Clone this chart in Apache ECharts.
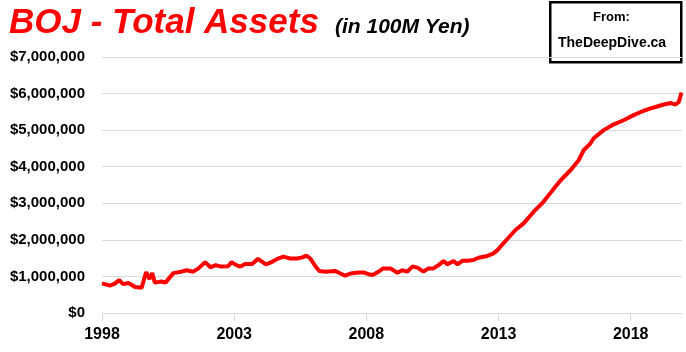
<!DOCTYPE html>
<html style="height: 100%">
<head>
<meta charset="utf-8">
<title>BOJ - Total Assets</title>
<style>
  html, body { margin: 0; padding: 0; background: #fff; }
  #chart { width: 686px; height: 352px; }
</style>
</head>
<body>
<div id="chart"></div>
<script src="https://cdn.jsdelivr.net/npm/echarts@6/dist/echarts.min.js"></script>
<script type="text/javascript">
  // dates as decimal years
  var years = [1998.0,1998.3,1998.5,1998.65,1998.8,1999.0,1999.25,1999.5,1999.67,1999.8,1999.9,
    2000.0,2000.25,2000.4,2000.7,2001.0,2001.2,2001.45,2001.65,2001.9,2002.1,2002.3,2002.5,2002.77,2002.9,
    2003.08,2003.23,2003.42,2003.68,2003.9,2004.2,2004.44,2004.63,2004.86,2005.12,2005.39,2005.58,2005.73,2005.88,
    2006.07,2006.22,2006.45,2006.83,2007.02,2007.2,2007.4,2007.7,2007.89,2008.08,2008.23,2008.42,2008.64,2008.91,
    2009.17,2009.36,2009.55,2009.74,2009.93,2010.16,2010.35,2010.54,2010.73,2010.92,2011.07,2011.3,2011.45,2011.64,2011.83,
    2012.05,2012.24,2012.58,2012.81,2012.96,2013.08,2013.34,2013.64,2013.95,2014.33,2014.7,2015.05,2015.35,2015.73,
    2016.03,2016.22,2016.48,2016.6,2016.98,2017.36,2017.73,2018.11,2018.49,2018.87,2019.25,2019.52,2019.7,2019.82,2019.92];

  // total assets, 100M yen
  var assets = [810000,750000,810000,900000,790000,820000,710000,690000,1120000,930000,1090000,
    830000,860000,830000,1090000,1130000,1170000,1130000,1220000,1390000,1250000,1310000,1270000,1280000,1390000,
    1310000,1270000,1340000,1340000,1480000,1330000,1400000,1480000,1540000,1490000,1490000,1520000,1570000,1490000,
    1280000,1150000,1130000,1150000,1080000,1020000,1080000,1110000,1110000,1060000,1040000,1110000,1220000,1220000,
    1100000,1170000,1130000,1270000,1240000,1130000,1220000,1220000,1310000,1420000,1330000,1420000,1330000,1430000,1430000,
    1450000,1510000,1560000,1630000,1720000,1820000,2030000,2270000,2450000,2770000,3040000,3360000,3630000,3910000,
    4180000,4450000,4640000,4780000,5000000,5160000,5270000,5410000,5530000,5620000,5700000,5740000,5700000,5770000,6030000];

  var xTicks = [1998, 2003, 2008, 2013, 2018];

  var seriesData = [];
  for (var i = 0; i < years.length; i++) {
    seriesData.push([years[i], assets[i]]);
  }

  function money(v) {
    return '$' + String(v).replace(/\B(?=(\d{3})+(?!\d))/g, ',');
  }

  var myChart = echarts.init(document.getElementById('chart'));
  var option = {
    animation: false,
    backgroundColor: '#fff',
    title: [{
      text: 'BOJ - Total Assets',
      left: 4,
      top: 1,
      textStyle: {
        color: '#ff0000',
        fontFamily: 'Liberation Sans',
        fontWeight: 'bold',
        fontStyle: 'italic',
        fontSize: 35
      }
    }, {
      text: '(in 100M Yen)',
      left: 330,
      top: 12,
      textStyle: {
        color: '#000',
        fontFamily: 'Liberation Sans',
        fontWeight: 'bold',
        fontStyle: 'italic',
        fontSize: 21
      }
    }],
    graphic: [{
      type: 'rect',
      left: 549,
      top: 1,
      shape: { width: 131, height: 60 },
      style: { fill: '#fff', stroke: '#000', lineWidth: 2.5 }
    }, {
      type: 'text',
      left: 593,
      top: 11,
      style: {
        text: 'From:',
        fill: '#000',
        font: 'bold 13px "Liberation Sans"'
      }
    }, {
      type: 'text',
      left: 558,
      top: 36,
      style: {
        text: 'TheDeepDive.ca',
        fill: '#000',
        font: 'bold 14px "Liberation Sans"'
      }
    }],
    grid: {
      left: 102,
      right: 4,
      top: 57,
      bottom: 39
    },
    xAxis: {
      type: 'value',
      min: 1998,
      max: 2019.94,
      axisLine: { show: true, lineStyle: { color: '#d9d9d9', width: 1 } },
      axisTick: { show: true, length: 8, customValues: xTicks, lineStyle: { color: '#d9d9d9' } },
      axisLabel: {
        customValues: xTicks,
        formatter: function (v) { return String(v); },
        color: '#000',
        fontFamily: 'Liberation Sans',
        fontWeight: 'bold',
        fontSize: 16,
        margin: 14
      },
      splitLine: { show: false }
    },
    yAxis: {
      type: 'value',
      min: 0,
      max: 7000000,
      interval: 1000000,
      axisLine: { show: false },
      axisTick: { show: false },
      axisLabel: {
        formatter: money,
        color: '#000',
        fontFamily: 'Liberation Sans',
        fontWeight: 'bold',
        fontSize: 15,
        margin: 17
      },
      splitLine: { lineStyle: { color: '#d9d9d9', width: 1 } }
    },
    series: [{
      name: 'Total Assets',
      type: 'line',
      data: seriesData,
      showSymbol: false,
      lineStyle: { color: '#ff0000', width: 4 },
      itemStyle: { color: '#ff0000' }
    }]
  };
  myChart.setOption(option);
</script>
</body>
</html>
